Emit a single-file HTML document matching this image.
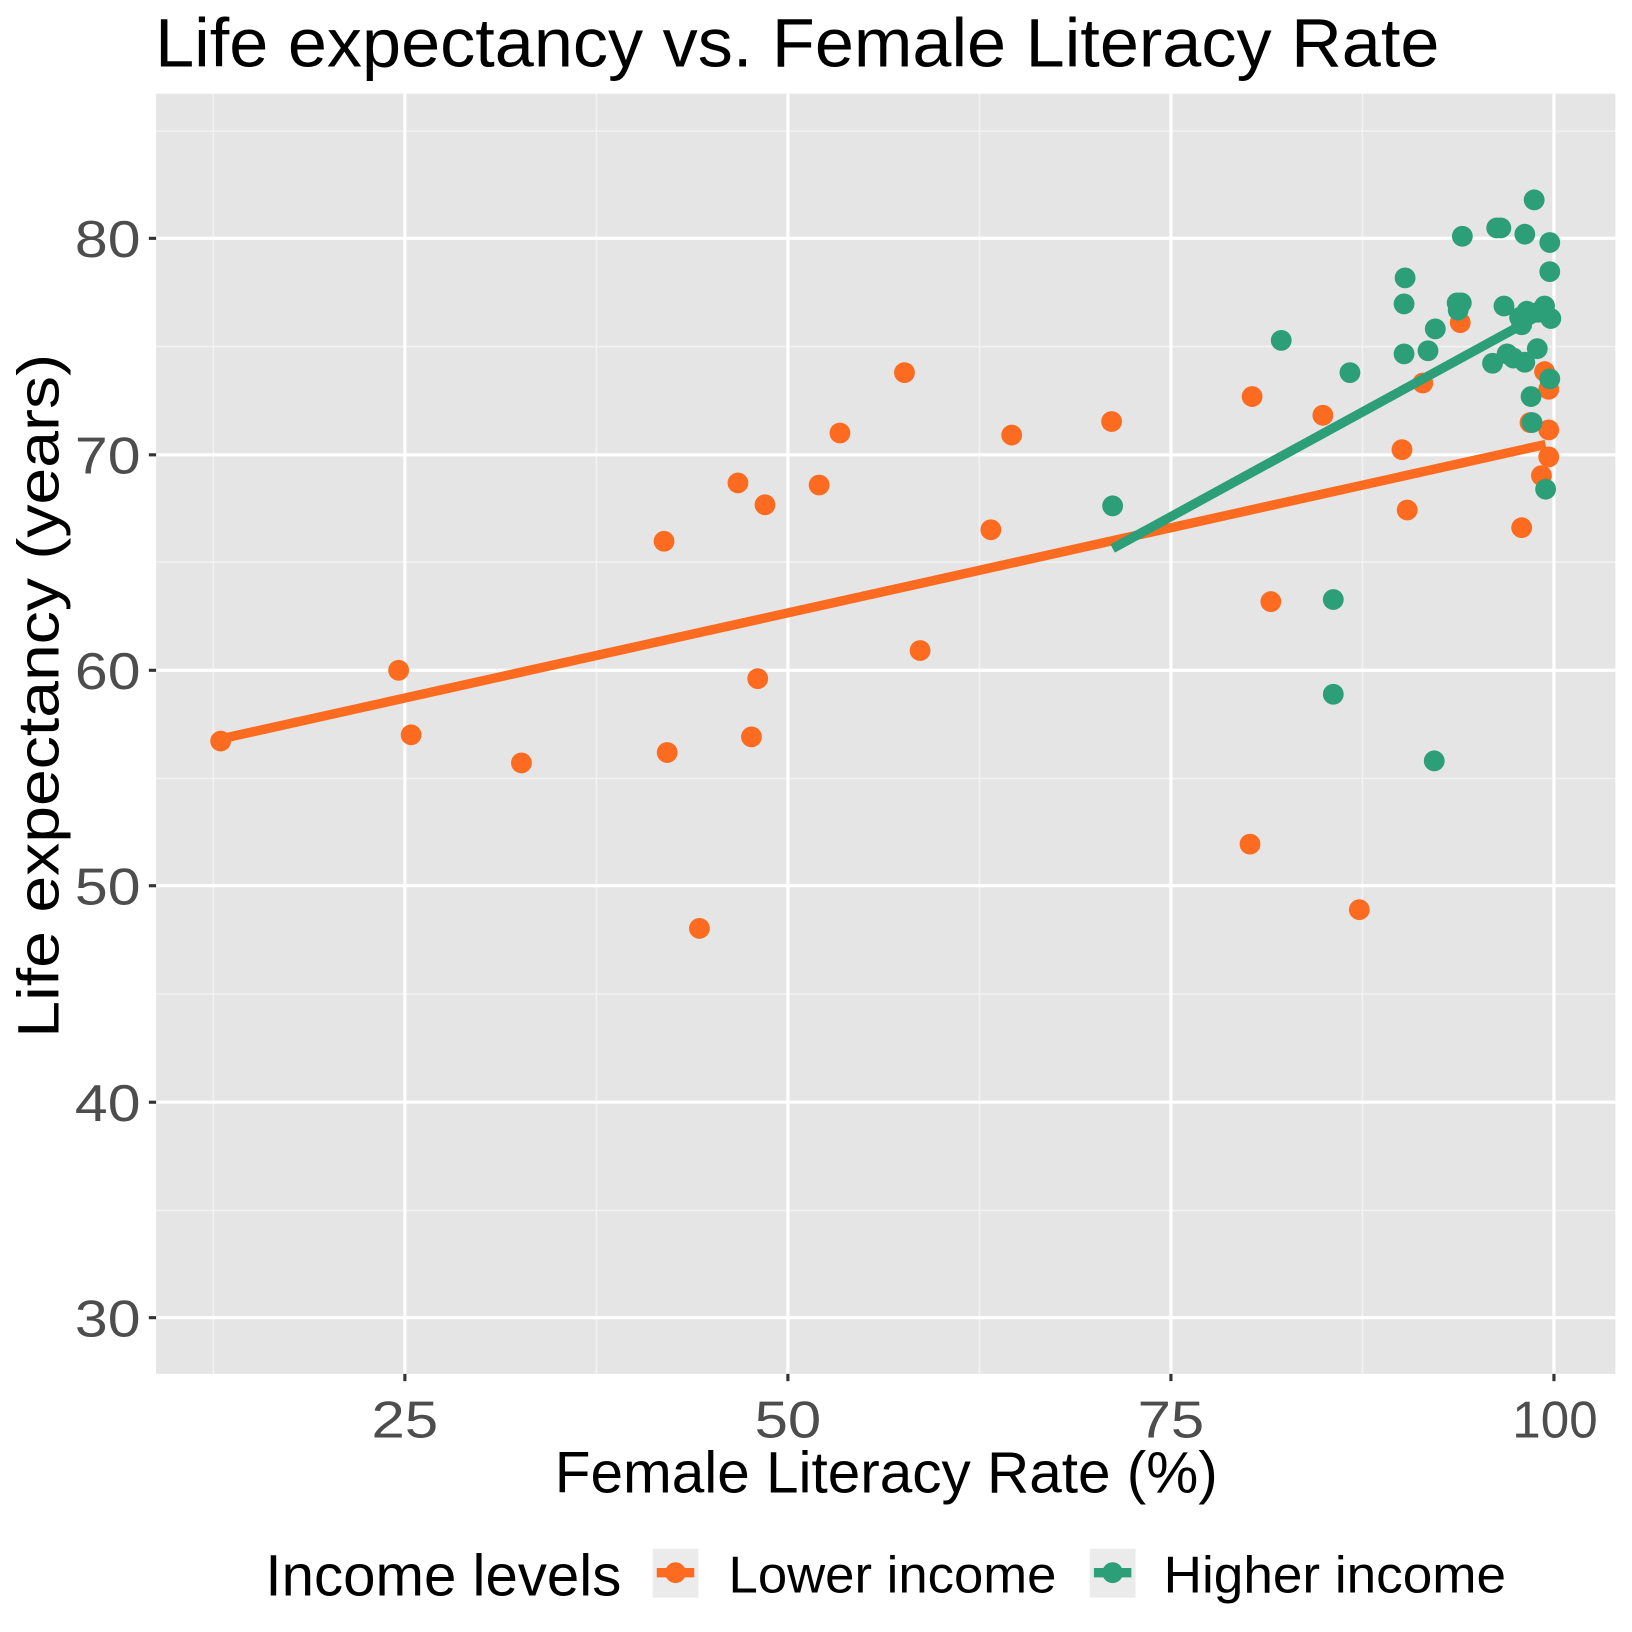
<!DOCTYPE html>
<html><head><meta charset="utf-8"><style>html,body{margin:0;padding:0;background:#fff}svg{display:block}</style></head><body>
<svg width="1632" height="1632" viewBox="0 0 1568 1568" xmlns="http://www.w3.org/2000/svg" font-family="Liberation Sans, Arial, sans-serif">
<rect width="1568" height="1568" fill="#fff"/>
<rect x="150" y="90" width="1402" height="1230" fill="#e5e5e5"/>
<g stroke="#f2f2f2" stroke-width="1.5">
<line x1="205" y1="90" x2="205" y2="1320"/><line x1="573" y1="90" x2="573" y2="1320"/><line x1="941" y1="90" x2="941" y2="1320"/><line x1="1309" y1="90" x2="1309" y2="1320"/>
<line x1="150" y1="126" x2="1552" y2="126"/><line x1="150" y1="333" x2="1552" y2="333"/><line x1="150" y1="540" x2="1552" y2="540"/><line x1="150" y1="748" x2="1552" y2="748"/><line x1="150" y1="955" x2="1552" y2="955"/><line x1="150" y1="1163" x2="1552" y2="1163"/>
</g>
<g stroke="#fff" stroke-width="3">
<line x1="389" y1="90" x2="389" y2="1320"/><line x1="757" y1="90" x2="757" y2="1320"/><line x1="1125" y1="90" x2="1125" y2="1320"/><line x1="1493" y1="90" x2="1493" y2="1320"/>
<line x1="150" y1="229" x2="1552" y2="229"/><line x1="150" y1="437" x2="1552" y2="437"/><line x1="150" y1="644" x2="1552" y2="644"/><line x1="150" y1="851" x2="1552" y2="851"/><line x1="150" y1="1059" x2="1552" y2="1059"/><line x1="150" y1="1266" x2="1552" y2="1266"/>
</g>
<g stroke="#333" stroke-width="3">
<line x1="389" y1="1320" x2="389" y2="1327"/><line x1="757" y1="1320" x2="757" y2="1327"/><line x1="1125" y1="1320" x2="1125" y2="1327"/><line x1="1493" y1="1320" x2="1493" y2="1327"/>
<line x1="143" y1="229" x2="150" y2="229"/><line x1="143" y1="437" x2="150" y2="437"/><line x1="143" y1="644" x2="150" y2="644"/><line x1="143" y1="851" x2="150" y2="851"/><line x1="143" y1="1059" x2="150" y2="1059"/><line x1="143" y1="1266" x2="150" y2="1266"/>
</g>
<g fill="#4d4d4d" font-size="50" text-anchor="middle">
<text x="389" y="1381" textLength="64" lengthAdjust="spacingAndGlyphs">25</text><text x="757" y="1381" textLength="64" lengthAdjust="spacingAndGlyphs">50</text><text x="1125" y="1381" textLength="64" lengthAdjust="spacingAndGlyphs">75</text><text x="1494" y="1381" textLength="82" lengthAdjust="spacingAndGlyphs">100</text>
</g>
<g fill="#4d4d4d" font-size="50" text-anchor="end">
<text x="135" y="247" textLength="63" lengthAdjust="spacingAndGlyphs">80</text><text x="135" y="455" textLength="63" lengthAdjust="spacingAndGlyphs">70</text><text x="135" y="662" textLength="63" lengthAdjust="spacingAndGlyphs">60</text><text x="135" y="869" textLength="63" lengthAdjust="spacingAndGlyphs">50</text><text x="135" y="1077" textLength="63" lengthAdjust="spacingAndGlyphs">40</text><text x="135" y="1284" textLength="63" lengthAdjust="spacingAndGlyphs">30</text>
</g>
<text x="149" y="64" font-size="66" fill="#000" textLength="1234" lengthAdjust="spacingAndGlyphs">Life expectancy vs. Female Literacy Rate</text>
<text x="533" y="1434" font-size="56" fill="#000" textLength="637" lengthAdjust="spacingAndGlyphs">Female Literacy Rate (%)</text>
<text transform="translate(56,997) rotate(-90)" font-size="56" fill="#000" textLength="657" lengthAdjust="spacingAndGlyphs">Life expectancy (years)</text>
<g fill="#fc6b1f">
<circle cx="212" cy="712" r="10"/><circle cx="383" cy="644" r="10"/><circle cx="395" cy="706" r="10"/><circle cx="501" cy="733" r="10"/><circle cx="638" cy="520" r="10"/><circle cx="641" cy="723" r="10"/><circle cx="672" cy="892" r="10"/><circle cx="709" cy="464" r="10"/><circle cx="722" cy="708" r="10"/><circle cx="728" cy="652" r="10"/><circle cx="735" cy="485" r="10"/><circle cx="787" cy="466" r="10"/><circle cx="807" cy="416" r="10"/><circle cx="869" cy="358" r="10"/><circle cx="884" cy="625" r="10"/><circle cx="952" cy="509" r="10"/><circle cx="972" cy="418" r="10"/><circle cx="1068" cy="405" r="10"/><circle cx="1201" cy="811" r="10"/><circle cx="1203" cy="381" r="10"/><circle cx="1221" cy="578" r="10"/><circle cx="1271" cy="399" r="10"/><circle cx="1306" cy="874" r="10"/><circle cx="1347" cy="432" r="10"/><circle cx="1352" cy="490" r="10"/><circle cx="1367" cy="368" r="10"/><circle cx="1403" cy="310" r="10"/><circle cx="1462" cy="507" r="10"/><circle cx="1470" cy="406" r="10"/><circle cx="1481" cy="457" r="10"/><circle cx="1484" cy="357" r="10"/><circle cx="1488" cy="374" r="10"/><circle cx="1488" cy="413" r="10"/><circle cx="1488" cy="439" r="10"/>
</g>
<g fill="#2c9e78">
<circle cx="1069" cy="486" r="10"/><circle cx="1231" cy="327" r="10"/><circle cx="1281" cy="576" r="10"/><circle cx="1281" cy="667" r="10"/><circle cx="1297" cy="358" r="10"/><circle cx="1349" cy="292" r="10"/><circle cx="1350" cy="267" r="10"/><circle cx="1349" cy="340" r="10"/><circle cx="1372" cy="337" r="10"/><circle cx="1379" cy="316" r="10"/><circle cx="1378" cy="731" r="10"/><circle cx="1400" cy="291" r="10"/><circle cx="1404" cy="291" r="10"/><circle cx="1405" cy="227" r="10"/><circle cx="1401" cy="298" r="10"/><circle cx="1434" cy="349" r="10"/><circle cx="1438" cy="219" r="10"/><circle cx="1442" cy="219" r="10"/><circle cx="1445" cy="294" r="10"/><circle cx="1448" cy="340" r="10"/><circle cx="1454" cy="344" r="10"/><circle cx="1460" cy="305" r="10"/><circle cx="1462" cy="312" r="10"/><circle cx="1465" cy="225" r="10"/><circle cx="1465" cy="348" r="10"/><circle cx="1467" cy="299" r="10"/><circle cx="1471" cy="381" r="10"/><circle cx="1472" cy="406" r="10"/><circle cx="1474" cy="192" r="10"/><circle cx="1478" cy="300" r="10"/><circle cx="1477" cy="335" r="10"/><circle cx="1484" cy="294" r="10"/><circle cx="1485" cy="470" r="10"/><circle cx="1489" cy="261" r="10"/><circle cx="1489" cy="233" r="10"/><circle cx="1490" cy="306" r="10"/><circle cx="1489" cy="364" r="10"/>
</g>
<line x1="212" y1="710" x2="1485" y2="427" stroke="#fc6b1f" stroke-width="9"/>
<line x1="1069" y1="527" x2="1488" y2="298" stroke="#2c9e78" stroke-width="9"/>
<text x="255" y="1533" font-size="56" fill="#000" textLength="342" lengthAdjust="spacingAndGlyphs">Income levels</text>
<rect x="627" y="1488" width="44" height="47" fill="#ebebeb"/>
<line x1="631" y1="1511" x2="667" y2="1511" stroke="#fc6b1f" stroke-width="9"/>
<circle cx="649" cy="1511" r="10" fill="#fc6b1f"/>
<text x="700" y="1530" font-size="50" fill="#000" textLength="315" lengthAdjust="spacingAndGlyphs">Lower income</text>
<rect x="1047" y="1488" width="44" height="47" fill="#ebebeb"/>
<line x1="1051" y1="1511" x2="1087" y2="1511" stroke="#2c9e78" stroke-width="9"/>
<circle cx="1069" cy="1511" r="10" fill="#2c9e78"/>
<text x="1118" y="1530" font-size="50" fill="#000" textLength="329" lengthAdjust="spacingAndGlyphs">Higher income</text>
</svg>
</body></html>
